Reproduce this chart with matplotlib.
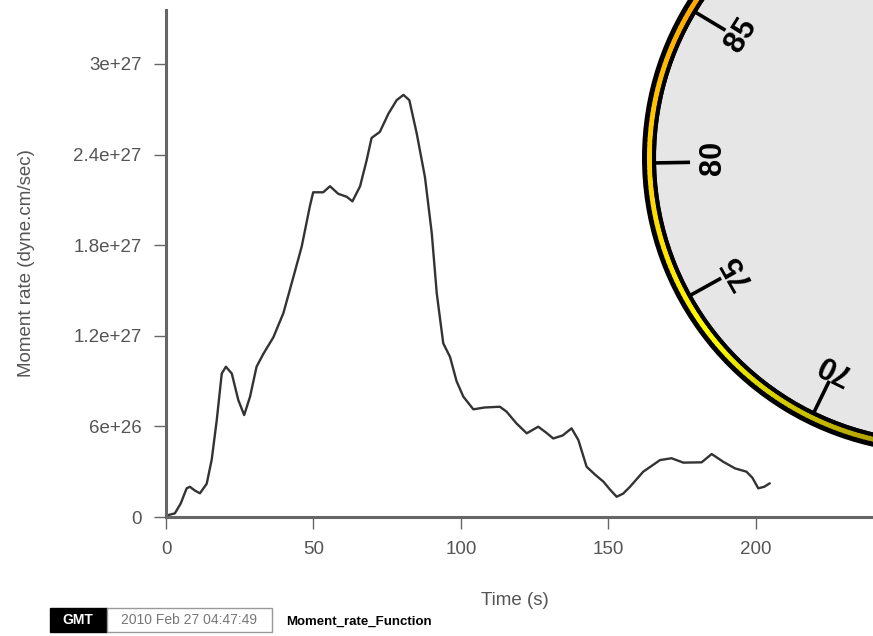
import numpy as np
import matplotlib.pyplot as plt
from matplotlib.patches import Circle, Wedge, Rectangle
from matplotlib.colors import LinearSegmentedColormap

plt.rcParams['font.family'] = ['Liberation Sans', 'DejaVu Sans']

# moment rate function (time in s, rate in 1e26 dyne.cm/sec)
time_s = [0, 0.8, 3, 5, 7, 8.1, 9.8, 11.5, 13.8, 15.5, 17.2, 18.9, 20.3, 22.3, 24.5,
          26.5, 28.5, 30.7, 33, 36.4, 39.8, 43.2, 46, 48.8, 49.9, 53.3, 55.6, 58.4,
          61.3, 63.2, 65.8, 68, 69.7, 72.5, 75.4, 78.2, 80.5, 82.5, 85, 87.8, 90.1,
          91.8, 94, 96.3, 98.5, 100.8, 104.2, 108, 113.2, 115.5, 118.8, 122.3, 126.2,
          128.8, 131.3, 134.5, 137.5, 139.8, 142.6, 145.5, 148.3, 150.6, 152.8, 155,
          157.3, 161.8, 167.5, 171.4, 175.4, 181.6, 185, 188.9, 192.9, 196.8, 198.8,
          200.8, 202.8, 204.7]
rate_1e26 = [0, 0.13, 0.24, 0.9, 1.9, 2.0, 1.75, 1.57, 2.2, 3.8, 6.4, 9.5, 9.95, 9.5,
             7.75, 6.75, 7.97, 9.95, 10.8, 11.9, 13.5, 15.9, 17.9, 20.6, 21.5, 21.5,
             21.9, 21.4, 21.2, 20.9, 21.9, 23.6, 25.1, 25.5, 26.7, 27.6, 27.95, 27.6,
             25.4, 22.5, 18.8, 14.8, 11.5, 10.6, 9.0, 7.97, 7.13, 7.25, 7.3, 6.97, 6.2,
             5.54, 5.98, 5.6, 5.2, 5.4, 5.87, 5.1, 3.33, 2.8, 2.34, 1.8, 1.34, 1.55,
             2.0, 3.0, 3.77, 3.89, 3.6, 3.62, 4.17, 3.66, 3.22, 3.0, 2.6, 1.9, 2.0, 2.23]

x_ticks = [0, 50, 100, 150, 200]
y_ticks = [0, 6e26, 1.2e27, 1.8e27, 2.4e27, 3e27]
y_tick_labels = ['0', '6e+26', '1.2e+27', '1.8e+27', '2.4e+27', '3e+27']

# dial overlay: label values and their screen angles (deg, counter-clockwise)
dial_values = ['85', '80', '75', '70']
dial_tick_angles = [149, 181, 209, 244]
dial_label_angles = [148, 180, 209.5, 243.5]
dial_label_radii = [232, 225, 230, 234]

stamp_time = '2010 Feb 27 04:47:49'
stamp_title = 'Moment_rate_Function'

W, H = 873, 636
fig = plt.figure(figsize=(W / 100, H / 100), dpi=100)
fig.patch.set_facecolor('white')

ax = fig.add_axes([166 / W, (H - 517) / H, (W - 166) / W, 507 / H])
ax.plot(time_s, np.array(rate_1e26) * 1e26, color='#333333', lw=1.7,
        solid_joinstyle='round', solid_capstyle='round')
ax.set_xlim(0, 239.7)
ax.set_ylim(0, 3.357e27)
ax.set_xticks(x_ticks)
ax.set_yticks(y_ticks)
ax.set_yticklabels(y_tick_labels)
for s in ['top', 'right']:
    ax.spines[s].set_visible(False)
for s in ['left', 'bottom']:
    ax.spines[s].set_color('#666666')
    ax.spines[s].set_linewidth(2.2)
ax.tick_params(direction='out', length=8.5, width=1.0, color='#666666',
               labelcolor='#555555', labelsize=13.5, pad=9)
ax.set_xlabel('Time (s)', fontsize=13.5, color='#555555')
ax.set_ylabel('Moment rate (dyne.cm/sec)', fontsize=13.5, color='#555555')
ax.xaxis.set_label_coords((515 - 166) / (W - 166), -(592 - 517) / 507)
ax.yaxis.set_label_coords(-(166 - 35) / (W - 166), 0.5)

# GMT time stamp
ov = fig.add_axes([0, 0, 1, 1], zorder=5)
ov.set_xlim(0, W)
ov.set_ylim(H, 0)
ov.axis('off')
ov.add_patch(Rectangle((50, 608), 57, 24, facecolor='black', edgecolor='black'))
ov.add_patch(Rectangle((107, 608), 165, 24, facecolor='white', edgecolor='#999999', lw=1))
ov.text(78, 620, 'GMT', color='white', fontsize=10, fontweight='bold', ha='center',
        va='center')
ov.text(189, 620.5, stamp_time, color='#777777', fontsize=10, ha='center', va='center')
ov.text(286, 622, stamp_title, color='black', fontsize=9.5, fontweight='bold', ha='left',
        va='center')

# dial overlay
cx, cy = 938, 158
r_out, r_band, r_in = 296, 291, 286
ov.add_patch(Circle((cx, cy), r_in, facecolor='#e6e6e6', edgecolor='none'))
ov.add_patch(Wedge((cx, cy), r_out, -275, -130, width=r_out - r_in + 4, facecolor='black',
                   edgecolor='none'))
band = LinearSegmentedColormap.from_list('band', [
    (0.0, '#ff9a00'), (0.15, '#ffb400'), (0.35, '#ffd400'), (0.55, '#fff000'),
    (0.62, '#ffff00'), (0.66, '#eeea00'), (0.8, '#c8bc00'), (1.0, '#9c8c00')])
for a in range(135, 270):
    col = band((a - 135) / 135)
    ov.add_patch(Wedge((cx, cy), r_band, -(a + 1.2), -a, width=r_band - r_in,
                       facecolor=col, edgecolor='none'))
ov.add_patch(Wedge((cx, cy), r_in, -275, -130, width=4, facecolor='black', edgecolor='none'))

for val, ta, la, lr in zip(dial_values, dial_tick_angles, dial_label_angles, dial_label_radii):
    t = np.radians(ta)
    ov.plot([cx + 283 * np.cos(t), cx + 248 * np.cos(t)],
            [cy - 283 * np.sin(t), cy - 248 * np.sin(t)], color='black', lw=2.6,
            solid_capstyle='butt')
    l = np.radians(la)
    ov.text(cx + lr * np.cos(l), cy - lr * np.sin(l), val, rotation=la - 90,
            rotation_mode='anchor', ha='center', va='center', fontsize=22,
            fontweight='bold', color='black')

fig.savefig('out.png', dpi=100)
